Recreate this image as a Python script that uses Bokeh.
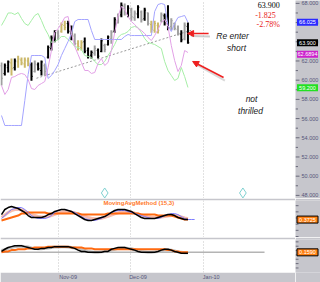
from bokeh.plotting import figure
from bokeh.layouts import column, row
from bokeh.models import (FixedTicker, Arrow, NormalHead, Range1d,
                          ColumnDataSource)
from bokeh.core.properties import value
from bokeh.embed import file_html
from bokeh.resources import INLINE

# ---------------- data ----------------
highs = [61.85, 61.75, 62.05, 62.25, 62.25, 62.55, 62.35, 62.35, 62.35, 61.85,
         62.05, 61.85, 62.05, 61.75, 63.6, 64.65, 65.2, 65.2, 66.0, 66.2,
         66.2, 65.7, 64.85, 64.15, 64.15, 64.45, 63.4, 63.1, 63.6, 63.3,
         64.35, 63.8, 64.65, 65.2, 66.55, 66.95, 68.1, 68.0, 67.8, 67.55,
         67.25, 67.8, 67.25, 67.55, 67.05, 66.2, 66.2, 66.0, 67.05, 66.95,
         67.8, 66.45, 66.0, 65.7, 65.2, 66.0, 66.0]
lows = [59.45, 60.5, 60.8, 60.5, 61.0, 61.3, 61.55, 61.3, 61.45, 59.95,
        60.8, 61.0, 60.5, 60.5, 62.25, 63.1, 63.95, 64.15, 64.95, 65.2,
        64.85, 64.15, 63.6, 63.1, 63.1, 62.8, 62.25, 62.25, 62.55, 62.25,
        62.9, 62.9, 63.6, 63.8, 64.95, 65.9, 66.55, 66.75, 66.55, 66.2,
        66.2, 66.45, 66.0, 66.2, 65.7, 64.95, 64.95, 64.85, 66.0, 65.7,
        65.2, 65.2, 65.2, 64.65, 63.95, 64.15, 63.8]
opens = [61.5, 60.7, 61.3, 61.8, 61.3, 61.9, 62.1, 61.7, 62.0, 61.6,
         60.9, 61.6, 61.0, 61.5, 62.4, 63.3, 64.2, 64.9, 65.1, 65.7,
         65.9, 65.3, 64.6, 63.8, 63.4, 64.0, 63.1, 62.6, 62.8, 63.1,
         63.0, 63.6, 63.7, 64.3, 65.1, 66.2, 66.8, 67.7, 66.9, 67.3,
         66.5, 66.9, 67.1, 66.4, 67.0, 65.8, 65.2, 65.7, 66.2, 66.7,
         66.1, 65.6, 65.9, 65.3, 64.8, 64.3, 65.6]
closes = [60.2, 61.5, 61.9, 61.2, 62.0, 62.2, 61.8, 62.1, 61.7, 60.4,
          61.7, 61.2, 61.9, 60.9, 63.4, 64.4, 65.0, 64.6, 65.8, 65.5,
          65.1, 64.4, 63.8, 63.5, 63.9, 63.0, 62.5, 62.9, 63.3, 62.5,
          64.1, 63.2, 64.5, 65.0, 66.3, 66.7, 67.8, 67.1, 67.5, 66.6,
          67.0, 67.6, 66.3, 67.3, 65.9, 65.3, 65.9, 65.2, 66.8, 66.0,
          65.5, 66.2, 65.4, 64.9, 64.2, 65.725, 63.9]
bar_kind = ["g", "k", "k", "t", "k", "t", "t", "t", "t", "k",
            "g", "k", "k", "g", "k", "k", "k", "g", "t", "t",
            "k", "k", "g", "t", "t", "k", "k", "k", "g", "k",
            "k", "g", "k", "g", "k", "g", "k", "g", "k", "g",
            "g", "k", "g", "k", "g", "t", "t", "t", "g", "k",
            "k", "g", "g", "g", "k", "g", "k"]

green_band = [65.70, 66.32, 67.0, 67.0, 66.84, 67.05, 66.43, 65.90, 65.70, 66.22,
              66.74, 66.95, 66.22, 65.38, 64.76, 63.93, 64.03, 64.24, 64.55, 64.55,
              64.24, 63.93, 63.51, 63.40, 63.20, 62.57, 62.47, 62.36, 61.95, 61.63,
              61.63, 61.95, 62.57, 63.09, 63.72, 64.45, 64.76, 64.86, 65.07, 65.49,
              65.59, 65.49, 64.97, 64.34, 63.93, 63.82, 63.72, 63.51, 63.30, 61.95,
              61.01, 60.49, 59.97, 60.18, 61.32, 60.38, 59.24]
blue_band = [56.32, 55.28, 55.28, 55.28, 55.28, 55.28, 55.28, 57.88, 60.59, 62.57,
             62.57, 62.57, 62.57, 62.36, 60.18, 60.49, 61.01, 61.63, 62.57, 63.30,
             64.03, 64.86, 66.11, 66.32, 66.32, 66.32, 66.32, 65.18, 64.24, 64.24,
             64.24, 64.24, 64.24, 64.24, 64.24, 64.24, 64.24, 64.55, 64.76, 64.65,
             64.65, 64.65, 64.65, 64.65, 64.65, 64.65, 67.15, 67.88, 67.99, 67.88,
             65.70, 65.07, 65.90, 66.53, 66.63, 66.74, 66.03]
magenta_band = [59.45, 58.51, 59.03, 60.28, 60.38, 60.59, 60.70, 60.59, 60.07, 59.13,
                59.03, 59.45, 59.65, 59.86, 61.32, 63.09, 64.97, 65.38, 65.90, 66.53,
                66.63, 64.86, 63.51, 62.68, 61.84, 61.01, 61.01, 60.70, 60.80, 61.74,
                62.26, 61.53, 61.84, 63.09, 64.97, 66.63, 67.68, 67.36, 66.63, 66.11,
                65.80, 65.38, 65.18, 64.86, 64.45, 64.13, 64.65, 65.28, 66.01, 66.32,
                65.59, 63.61, 62.05, 60.90, 61.53, 63.09, 62.88]
trend_idx = [10.5, 57.0]
trend_val = [60.2, 65.2]

osc_black = [0.78, 1.19, 1.35, 1.43, 1.35, 1.27, 1.11, 0.95, 0.70, 0.54,
             0.54, 0.54, 0.54, 0.62, 0.78, 0.86, 1.03, 1.11, 1.19, 1.19,
             1.11, 1.03, 0.86, 0.70, 0.54, 0.38, 0.30, 0.30, 0.38, 0.46,
             0.54, 0.62, 0.78, 0.95, 1.11, 1.19, 1.19, 1.19, 1.11, 1.03,
             0.86, 0.70, 0.54, 0.46, 0.46, 0.46, 0.46, 0.54, 0.62, 0.70,
             0.78, 0.78, 0.70, 0.54, 0.46, 0.38, 0.38]
osc_blue = [0.46, 0.70, 0.95, 1.19, 1.27, 1.35, 1.35, 1.19, 0.95, 0.70,
            0.54, 0.46, 0.46, 0.46, 0.54, 0.70, 0.95, 1.11, 1.19, 1.19,
            1.11, 1.03, 0.95, 0.78, 0.62, 0.46, 0.38, 0.30, 0.30, 0.38,
            0.46, 0.62, 0.78, 0.95, 1.03, 1.11, 1.11, 1.11, 1.03, 0.95,
            0.86, 0.78, 0.70, 0.62, 0.54, 0.46, 0.46, 0.46, 0.54, 0.70,
            0.78, 0.86, 0.86, 0.78, 0.62, 0.46, 0.38, 0.38, 0.38]
osc_orange = [0.30, 0.38, 0.46, 0.54, 0.62, 0.70, 0.86, 0.86, 0.95, 0.95,
              0.95, 0.95, 0.95, 0.95, 0.86, 0.86, 0.86, 0.86, 0.86, 0.86,
              0.86, 0.86, 0.86, 0.86, 0.78, 0.78, 0.78, 0.78, 0.78, 0.78,
              0.78, 0.78, 0.86, 0.86, 0.86, 0.86, 0.86, 0.86, 0.86, 0.86,
              0.86, 0.86, 0.78, 0.78, 0.78, 0.78, 0.78, 0.70, 0.70, 0.70,
              0.70, 0.70, 0.62, 0.54, 0.46, 0.38, 0.38]
osc_signal = [0.55, 0.75, 0.95, 1.10, 1.18, 1.20, 1.15, 1.05, 0.92, 0.80,
              0.70, 0.62, 0.58, 0.58, 0.62, 0.70, 0.80, 0.90, 0.98, 1.02,
              1.02, 0.98, 0.92, 0.84, 0.74, 0.64, 0.55, 0.48, 0.45, 0.45,
              0.48, 0.55, 0.64, 0.74, 0.84, 0.92, 0.98, 1.00, 1.00, 0.96,
              0.90, 0.82, 0.74, 0.66, 0.60, 0.56, 0.54, 0.55, 0.58, 0.62,
              0.66, 0.70, 0.70, 0.66, 0.58, 0.50, 0.44]

sub_black = [0.18, 0.23, 0.27, 0.29, 0.31, 0.31, 0.31, 0.29, 0.27, 0.25,
             0.23, 0.23, 0.25, 0.25, 0.27, 0.27, 0.29, 0.29, 0.29, 0.29,
             0.29, 0.27, 0.25, 0.21, 0.18, 0.18, 0.16, 0.16, 0.16, 0.16,
             0.16, 0.18, 0.18, 0.23, 0.25, 0.27, 0.27, 0.27, 0.25, 0.23,
             0.21, 0.18, 0.16, 0.16, 0.16, 0.16, 0.16, 0.18, 0.21, 0.23,
             0.23, 0.21, 0.18, 0.16, 0.14, 0.14, 0.14]
sub_orange = [0.16, 0.18, 0.18, 0.21, 0.21, 0.23, 0.23, 0.23, 0.25, 0.25,
              0.27, 0.27, 0.27, 0.27, 0.29, 0.29, 0.29, 0.29, 0.29, 0.29,
              0.29, 0.27, 0.27, 0.27, 0.27, 0.25, 0.25, 0.25, 0.23, 0.23,
              0.23, 0.23, 0.23, 0.23, 0.23, 0.23, 0.23, 0.23, 0.23, 0.23,
              0.23, 0.23, 0.23, 0.23, 0.23, 0.23, 0.23, 0.23, 0.23, 0.23,
              0.21, 0.21, 0.18, 0.18, 0.16, 0.16, 0.16]
sub_gray = [0.20, 0.22, 0.25, 0.27, 0.29, 0.30, 0.30, 0.29, 0.28, 0.26,
            0.25, 0.24, 0.24, 0.25, 0.26, 0.27, 0.28, 0.28, 0.29, 0.29,
            0.28, 0.27, 0.26, 0.24, 0.22, 0.20, 0.18, 0.17, 0.16, 0.16,
            0.17, 0.18, 0.19, 0.21, 0.23, 0.25, 0.26, 0.26, 0.25, 0.24,
            0.22, 0.20, 0.18, 0.17, 0.16, 0.16, 0.17, 0.18, 0.20, 0.21,
            0.22, 0.21, 0.19, 0.17, 0.16, 0.15, 0.15]
sub_ref = 0.159
sub_ref_end = 79

month_pos = [17.1, 38.7, 60.7]
month_labels = ["Nov-09", "Dec-09", "Jan-10"]
price_ticks = [48, 50, 52, 54, 56, 58, 60, 62, 64, 66, 68]
price_minor = [47, 49, 51, 53, 55, 57, 59, 61, 63, 65, 67]
osc_minor = [-1.0, -0.5, 0.0, 0.5, 1.0, 1.5]
sub_minor = [-0.2, -0.1, 0.0, 0.1, 0.2, 0.3, 0.4]
event_idx = [31.0, 72.5]
event_level = 48.25

quote_text = ["63.900", "-1.825", "-2.78%"]
quote_cols = ["#000000", "#e82020", "#e82020"]
note_text = ["Re enter", "short", "not", "thrilled"]
main_tag_vals = [66.025, 63.9, 62.6894, 59.2]
main_tag_text = ["66.025", "63.900", "62.6894", "59.200"]
main_tag_cols = ["#2a2aff", "#000000", "#cc22cc", "#22e022"]
osc_tag_val, osc_tag_text = 0.3725, "0.3725"
sub_tag_val, sub_tag_text = 0.159, "0.1590"
osc_title = "MovingAvgMethod (15,3)"

# ---------------- styling helpers ----------------
STRIP = "#c6c6cc"
AXC = "#55557a"
TICKC = "#6a6a7a"
xr = Range1d(-0.3, 88.3)


def make_fig(h, yr, top, bottom, xaxis):
    p = figure(width=295, height=h, x_range=xr, y_range=yr,
               output_backend="svg", toolbar_location=None,
               x_axis_location="below" if xaxis else None,
               y_axis_location=None,
               min_border=0, min_border_left=0, min_border_right=0,
               min_border_top=top, min_border_bottom=bottom,
               border_fill_color=STRIP, background_fill_color="white",
               outline_line_color=None)
    p.ygrid.visible = False
    p.xgrid.ticker = FixedTicker(ticks=month_pos)
    p.xgrid.grid_line_color = "#c4c4c4"
    p.xgrid.grid_line_dash = "1 2"
    return p


def make_strip(h, yr, top, bottom):
    s = figure(width=25, height=h, x_range=Range1d(0, 25), y_range=yr,
               output_backend="svg", toolbar_location=None,
               x_axis_location=None, y_axis_location=None,
               min_border=0, min_border_left=0, min_border_right=0,
               min_border_top=top, min_border_bottom=bottom,
               border_fill_color=STRIP, background_fill_color=STRIP,
               outline_line_color=None)
    s.xgrid.visible = False
    s.ygrid.visible = False
    return s


def add_tags(s, vals, texts, cols, border):
    s.rect(x=[12] * len(vals), y=vals, width=21, height=7, height_units="screen",
           fill_color=cols, line_color=border, line_width=1)
    s.text(x=[12] * len(vals), y=vals, text=texts, text_color="white",
           text_font=value("Liberation Sans"), text_font_size="5.5px",
           text_align="center", text_baseline="middle")


idx = list(range(len(highs)))
bar_colors = {"k": "#000000", "g": "#a0a0a0", "t": "#cbb86a"}

# ---------------- main price panel ----------------
yr1 = Range1d(47.675, 68.3)
p1 = make_fig(198, yr1, 0, 0, False)
p1.line(trend_idx, trend_val, line_color="#9a9a9a", line_dash="2 2", line_width=1)

src = ColumnDataSource(dict(
    x=idx, lo=lows, hi=highs, op=opens, cl=closes,
    xl=[i - 0.4 for i in idx], xr_=[i + 0.4 for i in idx],
    c=[bar_colors[k] for k in bar_kind]))
p1.segment(x0="x", y0="lo", x1="x", y1="hi", line_color="c", line_width=2, source=src)
p1.segment(x0="xl", y0="op", x1="x", y1="op", line_color="c", line_width=1, source=src)
p1.segment(x0="x", y0="cl", x1="xr_", y1="cl", line_color="c", line_width=1, source=src)

p1.line(idx, green_band, line_color="#a6eea6", line_width=1)
p1.line(idx, blue_band, line_color="#a4a4ff", line_width=1)
p1.line(idx, magenta_band, line_color="#e2a0e6", line_width=1)

p1.scatter(event_idx, [event_level] * len(event_idx), marker="diamond", size=10,
           fill_color="white", line_color="#7fd0d0", line_width=1)

# quote block (right aligned near the top right of the price panel)
p1.text(x=[83.6, 82.4, 83.6], y=[67.78, 66.74, 65.8], text=quote_text,
        text_color=quote_cols, text_font=value("Liberation Serif"),
        text_font_size="8px", text_align="right", text_baseline="middle")

# hand-written notes
p1.text(x=[69.4, 70.6, 75.1, 74.8], y=[64.65, 63.4, 57.99, 56.84], text=note_text,
        text_color="#1a1a1a", text_font=value("Liberation Sans"),
        text_font_style="italic", text_font_size="8.5px",
        text_align="center", text_baseline="middle")

# arrow shadows, then arrows
p1.add_layout(Arrow(x_start=62.6, y_start=64.55, x_end=57.0, y_end=64.6,
                    line_color="#b8b8b8", line_width=2, line_alpha=0.7, end=None))
p1.add_layout(Arrow(x_start=67.1, y_start=59.95, x_end=59.0, y_end=61.55,
                    line_color="#c0c0c0", line_width=2, line_alpha=0.6, end=None))
p1.add_layout(Arrow(x_start=62.2, y_start=64.86, x_end=55.9, y_end=64.86,
                    line_color="#ee2020", line_width=1.5,
                    end=NormalHead(size=6, fill_color="#ee2020", line_color="#ee2020")))
p1.add_layout(Arrow(x_start=66.7, y_start=60.28, x_end=57.4, y_end=61.95,
                    line_color="#ee2020", line_width=1.5,
                    end=NormalHead(size=6, fill_color="#ee2020", line_color="#ee2020")))

s1 = make_strip(198, yr1, 0, 0)
s1.segment(x0=[0] * len(price_ticks), y0=price_ticks, x1=[4] * len(price_ticks),
           y1=price_ticks, line_color=TICKC, line_width=1)
s1.segment(x0=[0] * len(price_minor), y0=price_minor, x1=[2.5] * len(price_minor),
           y1=price_minor, line_color=TICKC, line_width=1)
s1.text(x=[6] * len(price_ticks), y=price_ticks,
        text=["%.3f" % t for t in price_ticks], text_color=AXC,
        text_font=value("Liberation Sans"), text_font_size="5.5px",
        text_align="left", text_baseline="middle")
add_tags(s1, main_tag_vals, main_tag_text, main_tag_cols, None)

# ---------------- oscillator panel ----------------
yr2 = Range1d(-1.08, 1.92)
p2 = make_fig(39, yr2, 2, 0, False)
p2.line(idx, osc_signal, line_color="#f6bcae", line_width=3)
p2.line(idx, osc_orange, line_color="#ff6a10", line_width=2)
p2.line(list(range(len(osc_blue))), osc_blue, line_color="#7c7cff", line_width=1)
p2.line(idx, osc_black, line_color="#000000", line_width=1.5)
p2.text(x=[30.6], y=[1.68], text=[osc_title], text_color="#ff7a2a",
        text_font=value("Liberation Sans"), text_font_style="bold",
        text_font_size="6px", text_align="left", text_baseline="middle")
s2 = make_strip(39, yr2, 2, 0)
s2.segment(x0=[0] * len(osc_minor), y0=osc_minor, x1=[3] * len(osc_minor),
           y1=osc_minor, line_color=TICKC, line_width=1)
add_tags(s2, [osc_tag_val], [osc_tag_text], ["#ff7f10"], "#000000")

# ---------------- lower panel ----------------
yr3 = Range1d(-0.304, 0.454)
p3 = make_fig(45, yr3, 2, 7, True)
p3.segment(x0=[0], y0=[sub_ref], x1=[sub_ref_end], y1=[sub_ref],
           line_color="#b4b4b4", line_width=1.5)
p3.line(idx, sub_gray, line_color="#c0c0c0", line_width=3)
p3.line(idx, sub_orange, line_color="#ff6a10", line_width=2)
p3.line(idx, sub_black, line_color="#000000", line_width=1.5)

label_pos = [round(m + 2.7) for m in month_pos]
xa = p3.xaxis[0]
xa.ticker = FixedTicker(ticks=label_pos)
xa.major_label_overrides = {k: v for k, v in zip(label_pos, month_labels)}
xa.axis_line_color = None
xa.major_tick_line_color = None
xa.minor_tick_line_color = None
xa.major_tick_out = 0
xa.major_tick_in = 0
xa.major_label_standoff = 1
xa.major_label_text_font = "Liberation Sans"
xa.major_label_text_font_size = "5.5px"
xa.major_label_text_color = AXC

s3 = make_strip(45, yr3, 2, 7)
s3.segment(x0=[0] * len(sub_minor), y0=sub_minor, x1=[3] * len(sub_minor),
           y1=sub_minor, line_color=TICKC, line_width=1)
add_tags(s3, [sub_tag_val], [sub_tag_text], ["#ff7f10"], "#000000")

layout = column(row(p1, s1, spacing=0), row(p2, s2, spacing=0),
                row(p3, s3, spacing=0), spacing=0)
open("out.html", "w").write(file_html(layout, INLINE))
